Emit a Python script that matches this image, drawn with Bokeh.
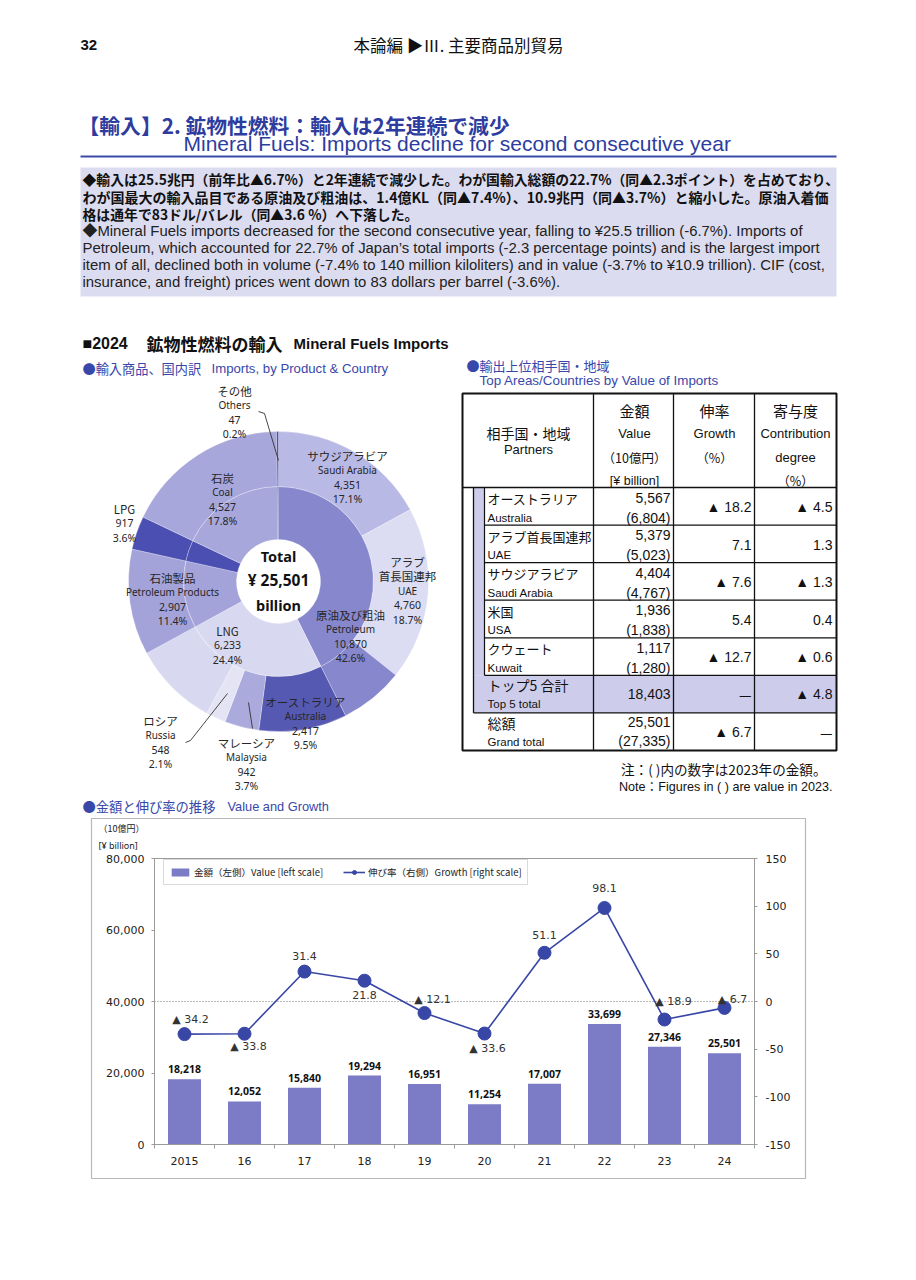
import numpy as np
from bokeh.plotting import figure
from bokeh.models import (Range1d, LinearAxis, FixedTicker, NumeralTickFormatter,
                          Legend, LegendItem, ColumnDataSource)
from bokeh.core.properties import value
from bokeh.embed import file_html
from bokeh.resources import INLINE

# ---------------- data ----------------
# doughnut: products (inner ring)
product_jp = ["原油及び粗油", "LNG", "石油製品", "LPG", "石炭", "その他"]
product_en = ["Petroleum", "", "Petroleum Products", "", "Coal", "Others"]
product_values = [10870, 6233, 2907, 917, 4527, 47]
product_shares = [42.6, 24.4, 11.4, 3.6, 17.8, 0.2]
# doughnut: country breakdown (outer ring)
petro_country_jp = ["サウジアラビア", "アラブ\n首長国連邦"]
petro_country_en = ["Saudi Arabia", "UAE"]
petro_country_values = [4351, 4760]
petro_country_shares = [17.1, 18.7]
lng_country_jp = ["オーストラリア", "マレーシア", "ロシア"]
lng_country_en = ["Australia", "Malaysia", "Russia"]
lng_country_values = [2417, 942, 548]
lng_country_shares = [9.5, 3.7, 2.1]
total_value = 25501

# table: top partners
partners_jp = ["オーストラリア", "アラブ首長国連邦", "サウジアラビア", "米国", "クウェート"]
partners_en = ["Australia", "UAE", "Saudi Arabia", "USA", "Kuwait"]
partner_value_2024 = [5567, 5379, 4404, 1936, 1117]
partner_value_2023 = [6804, 5023, 4767, 1838, 1280]
partner_growth = [-18.2, 7.1, -7.6, 5.4, -12.7]
partner_contrib = [-4.5, 1.3, -1.3, 0.4, -0.6]
top5_value = 18403
top5_contrib = -4.8
grand_value_2024 = 25501
grand_value_2023 = 27335
grand_growth = -6.7

# bar + line chart
years = ["2015", "16", "17", "18", "19", "20", "21", "22", "23", "24"]
bar_values = [18218, 12052, 15840, 19294, 16951, 11254, 17007, 33699, 27346, 25501]
growth_values = [-34.2, -33.8, 31.4, 21.8, -12.1, -33.6, 51.1, 98.1, -18.9, -6.7]
left_ticks = [0, 20000, 40000, 60000, 80000]
right_ticks = [-150, -100, -50, 0, 50, 100, 150]

# ---------------- styles ----------------
JP = "Noto Sans CJK JP"
SANS = "Liberation Sans, Noto Sans CJK JP"
BLUE = "#2d3c9e"
SUBBLUE = "#3847aa"

product_colors = ["#8787cd", "#d8d8f0", "#a3a3da", "#4b4fb2", "#a7a7dc", "#3a42a2"]
petro_country_colors = ["#b9b9e5", "#dcdcf2"]
lng_country_colors = ["#5659b2", "#aaaadd", "#e4e4f5"]

pie_label_pos = {"原油及び粗油": (350, 614), "LNG": (227, 630), "石油製品": (172, 577),
                 "LPG": (124, 508), "石炭": (222, 477), "その他": (234, 390),
                 "サウジアラビア": (347, 455), "アラブ\n首長国連邦": (407, 561),
                 "オーストラリア": (305, 701), "マレーシア": (246, 742), "ロシア": (160, 720)}

growth_dx = [6, 4, 0, 0, 8, 3, 0, 0, 9, 8]
growth_dy = [-15, 13, -16, 14, -14, 15, -18, -20, -18, -8]


def fmt_pct(v):
    return f"▲ {abs(v):.1f}" if v < 0 else f"{v:.1f}"


# ---------------- one page figure (frame: page x 70..870, y 0..1235) ----------------
FW, FH = 916, 1275
FL, FR, FT, FB = 70, 870, 0, 1235
p = figure(width=FW, height=FH, x_range=Range1d(FL, FR), y_range=Range1d(-FB, -FT),
           output_backend="svg", toolbar_location=None,
           min_border_left=FL, min_border_right=FW - FR, min_border_top=FT,
           min_border_bottom=FH - FB, x_axis_location=None, y_axis_location=None)
p.grid.visible = False
p.outline_line_color = None


def T(x, y, s, size=12, color="#111111", font=JP, bold=False, align="left"):
    p.text(x=[x], y=[-y], text=[s], text_font=value(font), text_font_size=f"{size}px",
           text_color=color, text_font_style="bold" if bold else "normal",
           text_align=align, text_baseline="middle")


def L(xs, ys, color="#111111", width=1.0):
    p.line(x=xs, y=[-v for v in ys], line_color=color, line_width=width)


# header
T(80, 44, "32", 15, "#111111", SANS, bold=True)
T(458, 44, "本論編 ▶Ⅲ. 主要商品別貿易", 16.5, "#111111", JP, align="center")
T(78, 124, "【輸入】2. 鉱物性燃料：輸入は2年連続で減少", 20.8, BLUE, JP, bold=True)
T(183, 143, "Mineral Fuels: Imports decline for second consecutive year", 21, BLUE, SANS)
L([80, 836], [156, 156], "#3a4aa8", 2)

# summary box
p.quad(left=80, right=836, top=-167, bottom=-296, fill_color="#dcdcf0", line_color=None)
T(82, 178, "◆輸入は25.5兆円（前年比▲6.7%）と2年連続で減少した。わが国輸入総額の22.7%（同▲2.3ポイント）を占めており、", 13.85, "#111111", JP, bold=True)
T(82, 196, "わが国最大の輸入品目である原油及び粗油は、1.4億KL（同▲7.4%）、10.9兆円（同▲3.7%）と縮小した。原油入着価", 14.0, "#111111", JP, bold=True)
T(82, 213, "格は通年で83ドル/バレル（同▲3.6 %）へ下落した。", 13.85, "#111111", JP, bold=True)
T(82, 230, "◆Mineral Fuels imports decreased for the second consecutive year, falling to ¥25.5 trillion (-6.7%). Imports of", 14.9, "#222222", SANS)
T(82, 247, "Petroleum, which accounted for 22.7% of Japan’s total imports (-2.3 percentage points) and is the largest import", 14.9, "#222222", SANS)
T(82, 264, "item of all, declined both in volume (-7.4% to 140 million kiloliters) and in value (-3.7% to ¥10.9 trillion). CIF (cost,", 14.9, "#222222", SANS)
T(82, 281, "insurance, and freight) prices went down to 83 dollars per barrel (-3.6%).", 14.9, "#222222", SANS)

# section headings
T(82, 343, "■2024", 16, "#111111", SANS, bold=True)
T(146, 343, "鉱物性燃料の輸入", 17, "#111111", JP, bold=True)
T(293, 343, "Mineral Fuels Imports", 15, "#111111", SANS, bold=True)
T(82, 368, "●輸入商品、国内訳", 13.2, SUBBLUE, JP)
T(211, 368, "Imports, by Product & Country", 13.2, SUBBLUE, SANS)
T(466, 365, "●輸出上位相手国・地域", 13, SUBBLUE, JP)
T(479, 380, "Top Areas/Countries by Value of Imports", 13.4, SUBBLUE, SANS)
T(82, 806, "●金額と伸び率の推移", 13.3, SUBBLUE, JP)
T(227, 806, "Value and Growth", 12.8, SUBBLUE, SANS)

# ---------------- doughnut ----------------
cx, cy = 278, 581
r_hole, r_mid, r_out = 42, 95, 150


def wedge_angles(vals):
    v = np.array(vals, dtype=float)
    c = np.concatenate([[0.0], np.cumsum(v)]) / total_value
    return np.pi / 2 - c[:-1] * 2 * np.pi, np.pi / 2 - c[1:] * 2 * np.pi


s_in, e_in = wedge_angles(product_values)
p.annular_wedge(x=cx, y=-cy, inner_radius=r_hole, outer_radius=r_mid, start_angle=s_in,
                end_angle=e_in, direction="clock", fill_color=product_colors,
                line_color="white", line_alpha=0.35, line_width=0.8)

petro_rest = product_values[0] - sum(petro_country_values)
lng_rest = product_values[1] - sum(lng_country_values)
outer_vals = petro_country_values + [petro_rest] + lng_country_values + [lng_rest] + product_values[2:]
outer_cols = petro_country_colors + [product_colors[0]] + lng_country_colors + [product_colors[1]] + product_colors[2:]
s_out, e_out = wedge_angles(outer_vals)
p.annular_wedge(x=cx, y=-cy, inner_radius=r_mid, outer_radius=r_out, start_angle=s_out,
                end_angle=e_out, direction="clock", fill_color=outer_cols,
                line_color="white", line_alpha=0.35, line_width=0.8)

T(cx, 555, "Total", 14.5, "#111111", "Noto Sans", bold=True, align="center")
T(cx, 579, f"¥ {total_value:,}", 15.5, "#111111", "Noto Sans", bold=True, align="center")
T(cx, 604, "billion", 14.5, "#111111", "Noto Sans", bold=True, align="center")

label_items = list(zip(product_jp, product_en, product_values, product_shares)) + \
    list(zip(petro_country_jp, petro_country_en, petro_country_values, petro_country_shares)) + \
    list(zip(lng_country_jp, lng_country_en, lng_country_values, lng_country_shares))
for jp, en, v, s in label_items:
    x0, y0 = pie_label_pos[jp]
    lines = [(t, JP, 11.5) for t in jp.split("\n")]
    if en:
        lines.append((en, "Noto Sans", 10))
    lines += [(f"{v:,}", "Noto Sans", 10.5), (f"{s:.1f}%", "Noto Sans", 10.5)]
    for k, (t, f, sz) in enumerate(lines):
        T(x0, y0 + k * 14.6, t, sz, "#262626", f, align="center")

L([258, 264, 278], [411, 413, 460], "#333333", 0.9)
L([185, 190, 227], [742, 740, 693], "#333333", 0.9)
L([248, 252], [702, 728], "#333333", 0.9)

# ---------------- table ----------------
TL, TR, TT, TB = 462, 836, 393, 750
HB = 487
row_h = (TB - HB) / 7.0
rows = [HB + i * row_h for i in range(8)]
LAV = "#cdcdeb"
p.quad(left=473, right=484, top=-HB, bottom=-rows[5], fill_color=LAV, line_color=None)
p.quad(left=473, right=TR, top=-rows[5], bottom=-rows[6], fill_color=LAV, line_color=None)
for cxl in (593, 673, 754):
    L([cxl, cxl], [TT, TB], "#111111", 1.3)
L([TL, TR], [HB, HB], "#111111", 1.3)
for i in range(1, 6):
    L([484, TR], [rows[i], rows[i]], "#111111", 1.2)
L([473, TR], [rows[6], rows[6]], "#111111", 1.2)
L([473, 473], [HB, rows[6]], "#111111", 1.3)
L([484, 484], [HB, rows[5]], "#111111", 1.2)
p.quad(left=TL, right=TR, top=-TT, bottom=-TB, fill_alpha=0, line_color="#111111", line_width=2)

T(528, 432, "相手国・地域", 14, "#111111", JP, align="center")
T(528, 449, "Partners", 13, "#111111", SANS, align="center")
T(634, 410, "金額", 15, "#111111", JP, align="center")
T(634, 433, "Value", 13, "#111111", SANS, align="center")
T(634, 457, "（10億円）", 12.5, "#111111", JP, align="center")
T(634, 480, "[¥ billion]", 12.5, "#111111", SANS, align="center")
T(714, 410, "伸率", 15, "#111111", JP, align="center")
T(714, 433, "Growth", 13, "#111111", SANS, align="center")
T(714, 457, "（%）", 12.5, "#111111", JP, align="center")
T(795, 410, "寄与度", 15, "#111111", JP, align="center")
T(795, 433, "Contribution", 13, "#111111", SANS, align="center")
T(795, 457, "degree", 13, "#111111", SANS, align="center")
T(795, 480, "（%）", 12.5, "#111111", JP, align="center")

for i in range(5):
    t = rows[i]
    T(487, t + 11, partners_jp[i], 13, "#111111", JP)
    T(487, t + 30, partners_en[i], 11.5, "#111111", SANS)
    T(670, t + 10, f"{partner_value_2024[i]:,}", 14, "#111111", SANS, align="right")
    T(670, t + 30, f"({partner_value_2023[i]:,})", 14, "#111111", SANS, align="right")
    T(751, t + 19.5, fmt_pct(partner_growth[i]), 14, "#111111", SANS, align="right")
    T(832, t + 19.5, fmt_pct(partner_contrib[i]), 14, "#111111", SANS, align="right")

t = rows[5]
T(487, t + 10, "トップ5 合計", 14, "#111111", JP)
T(487, t + 29, "Top 5 total", 11.5, "#111111", SANS)
T(670, t + 19, f"{top5_value:,}", 14, "#111111", SANS, align="right")
T(751, t + 19, "—", 14, "#111111", JP, align="right")
T(832, t + 19, fmt_pct(top5_contrib), 14, "#111111", SANS, align="right")
t = rows[6]
T(487, t + 10, "総額", 14, "#111111", JP)
T(487, t + 29, "Grand total", 11.5, "#111111", SANS)
T(670, t + 9, f"{grand_value_2024:,}", 14, "#111111", SANS, align="right")
T(670, t + 28, f"({grand_value_2023:,})", 14, "#111111", SANS, align="right")
T(751, t + 19, fmt_pct(grand_growth), 14, "#111111", SANS, align="right")
T(832, t + 19, "—", 14, "#111111", JP, align="right")

T(826, 768, "注：( )内の数字は2023年の金額。", 13.6, "#111111", JP, align="right")
T(832, 786, "Note：Figures in ( ) are value in 2023.", 12.6, "#111111", SANS, align="right")

# ---------------- bar + line chart (own scales placed in page) ----------------
# plot area: page x 154..754, y 858..1144 ; outer box 91..805 x 818..1178
PX0, PX1, PY0, PY1 = 154, 754, 858, 1144
n = len(years)
xi = list(range(n))
upx = (PX1 - PX0) / n
upy = (PY1 - PY0) / (left_ticks[-1] - left_ticks[0])
upg = (PY1 - PY0) / (right_ticks[-1] - right_ticks[0])
p.extra_x_ranges = {"bx": Range1d(-0.5 - (PX0 - FL) / upx, n - 0.5 + (FR - PX1) / upx)}
p.extra_y_ranges = {
    "by": Range1d(left_ticks[0] - (FB - PY1) / upy, left_ticks[-1] + (PY0 - FT) / upy),
    "g": Range1d(right_ticks[0] - (FB - PY1) / upg, right_ticks[-1] + (PY0 - FT) / upg),
}

p.quad(left=91, right=805, top=-818, bottom=-1178, fill_alpha=0, line_color="#b8b8b8", line_width=1.2)
T(98, 828, "（10億円）", 9, "#222222", JP)
T(98, 845, "[¥ billion]", 9, "#222222", "Noto Sans")

AXC = "#9a9a9a"
TICKFONT = "DejaVu Sans"

p.quad(left=-0.5, right=n - 0.5, bottom=left_ticks[0], top=left_ticks[-1], fill_alpha=0,
       line_color=AXC, line_width=1, x_range_name="bx", y_range_name="by")


def style_axis(ax):
    ax.major_label_text_font = TICKFONT
    ax.major_label_text_font_size = "11px"
    ax.major_label_text_color = "#222222"
    ax.axis_line_color = AXC
    ax.major_tick_line_color = AXC
    ax.minor_tick_line_color = None
    ax.major_tick_out = 3
    ax.major_tick_in = 0


ya = LinearAxis(x_range_name="bx", y_range_name="by", fixed_location=-0.5,
                bounds=(left_ticks[0], left_ticks[-1]), ticker=FixedTicker(ticks=left_ticks),
                formatter=NumeralTickFormatter(format="0,0"))
style_axis(ya)
ya.major_label_standoff = 7
p.add_layout(ya, "left")

ra = LinearAxis(x_range_name="bx", y_range_name="g", fixed_location=n - 0.5,
                bounds=(right_ticks[0], right_ticks[-1]), ticker=FixedTicker(ticks=right_ticks))
ra.major_label_overrides = {t: str(t) for t in right_ticks}
style_axis(ra)
ra.major_label_standoff = 8
p.add_layout(ra, "right")

xa = LinearAxis(x_range_name="bx", y_range_name="by", fixed_location=0,
                bounds=(-0.5, n - 0.5),
                ticker=FixedTicker(ticks=xi, minor_ticks=[i - 0.5 for i in range(n + 1)]))
xa.major_label_overrides = {i: years[i] for i in xi}
style_axis(xa)
xa.major_tick_line_color = None
xa.minor_tick_line_color = AXC
xa.minor_tick_out = 4
xa.minor_tick_in = 0
xa.major_label_standoff = 8
p.add_layout(xa, "below")

p.segment(x0=[-0.5], y0=[0], x1=[n - 0.5], y1=[0], x_range_name="bx", y_range_name="g",
          line_color="#777777", line_dash="1 2", line_width=1)

src = ColumnDataSource(dict(x=xi, v=bar_values, g=growth_values,
                            vlab=[f"{v:,}" for v in bar_values],
                            glab=[fmt_pct(g) for g in growth_values],
                            dx=growth_dx, dy=growth_dy))
bars = p.vbar(x="x", top="v", width=0.55, source=src, fill_color="#7b7bc6", line_color=None,
              x_range_name="bx", y_range_name="by")
p.text(x="x", y="v", text="vlab", source=src, y_offset=-10, text_align="center",
       text_baseline="middle", text_font=value("Noto Sans"), text_font_style="bold",
       text_font_size="10.5px", text_color="#111111", x_range_name="bx", y_range_name="by")
gl = p.line(x="x", y="g", source=src, x_range_name="bx", y_range_name="g",
            line_color="#3846a6", line_width=1.6)
gd = p.scatter(x="x", y="g", source=src, x_range_name="bx", y_range_name="g", marker="circle",
               size=13, fill_color="#3846a6", line_color="#3846a6")
p.text(x="x", y="g", text="glab", source=src, x_range_name="bx", y_range_name="g",
       x_offset="dx", y_offset="dy", text_align="center", text_baseline="middle",
       text_font=value("DejaVu Sans"), text_font_size="11px", text_color="#333333")

legend = Legend(items=[LegendItem(label="金額（左側）Value [left scale]", renderers=[bars]),
                       LegendItem(label="伸び率（右側）Growth [right scale]", renderers=[gl, gd])],
                location=(163 - FL, FB - 885), orientation="horizontal", margin=0, padding=5,
                spacing=20, label_standoff=3, glyph_width=22, glyph_height=10,
                label_text_font=JP, label_text_font_size="9.5px", label_text_color="#222222",
                border_line_color="#b5b5b5", background_fill_color="white")
p.add_layout(legend)

open("out.html", "w").write(file_html(p, INLINE))
